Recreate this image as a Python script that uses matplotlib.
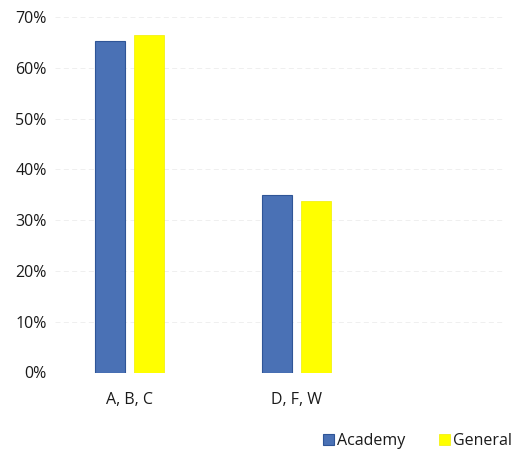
import numpy as np
import matplotlib.pyplot as plt

# datos
categorias = ["A, B, C", "D, F, W"]
academy = [65.3, 34.9]
general = [66.4, 33.7]
yticks = [0, 10, 20, 30, 40, 50, 60, 70]

plt.rcParams['font.family'] = ['Open Sans', 'DejaVu Sans']

fig = plt.figure(figsize=(5.19, 4.57), dpi=100)
ax = fig.add_axes([55 / 519, 1 - 372.5 / 457, (505 - 55) / 519, (372.5 - 17) / 457])

x = np.arange(len(categorias))
ancho = 0.18
ax.bar(x - 0.115, academy, ancho, color='#4a71b5', edgecolor='#2f5597', linewidth=0.8, label='Academy', zorder=3)
ax.bar(x + 0.115, general, ancho, color='#ffff00', edgecolor='#f2ee00', linewidth=0.5, label='General', zorder=3)

ax.set_ylim(0, 70)
ax.set_xlim(-0.446, 2.25)
ax.set_yticks(yticks)
ax.set_yticklabels([f"{v}%" for v in yticks], fontsize=11.5, color='#1a1a1a')
ax.set_xticks(x)
ax.set_xticklabels(categorias, fontsize=11.5, color='#1a1a1a')
ax.tick_params(axis='x', length=0, pad=14)
ax.tick_params(axis='y', length=0, pad=6)

for s in ax.spines.values():
    s.set_visible(False)
ax.grid(axis='y', color='#ececec', linewidth=0.6, linestyle=(0, (6, 4)), zorder=0)

fig.legend(loc='lower right', bbox_to_anchor=(1.015, -0.015), ncol=2, frameon=False,
           fontsize=11.5, handlelength=0.7, handleheight=0.7, handletextpad=0.2,
           columnspacing=2.1, labelcolor='#1a1a1a')

fig.savefig('out.png', dpi=100)
